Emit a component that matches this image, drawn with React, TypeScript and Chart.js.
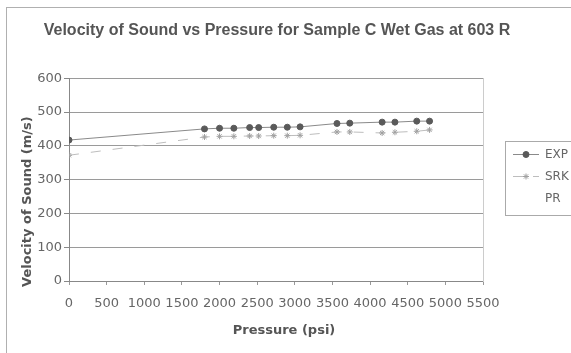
import React, { useEffect, useRef } from "react";
import { Chart, registerables } from "chart.js";
import { drawPoint } from "chart.js/helpers";

Chart.register(...registerables);

const TITLE = "Velocity of Sound vs Pressure for Sample C Wet Gas at 603 R";
const X_TITLE = "Pressure (psi)";
const Y_TITLE = "Velocity of Sound (m/s)";
const SERIES_NAMES = ["EXP", "SRK", "PR"];
const PRESSURE = [0, 1800, 2000, 2190, 2400, 2520, 2720, 2900, 3070, 3560, 3730, 4160, 4330, 4620, 4790];
const EXP = [417, 450, 452, 452, 454, 454, 455, 455, 456, 466, 467, 470, 470, 473, 473];
const SRK = [372, 426, 428, 428, 429, 429, 430, 430, 431, 441, 441, 438, 440, 443, 447];
const PR: number[] = [];
const X_TICKS = [0, 500, 1000, 1500, 2000, 2500, 3000, 3500, 4000, 4500, 5000, 5500];
const Y_TICKS = [0, 100, 200, 300, 400, 500, 600];

const TICK_FONT = { family: "'DejaVu Sans'", size: 13 };

const framePlugin = {
  id: "frame",
  beforeDraw(chart: any) {
    const ctx = chart.ctx;
    ctx.save();
    ctx.fillStyle = "#ffffff";
    ctx.fillRect(0, 0, chart.width, chart.height);
    ctx.strokeStyle = "#b0b0b0";
    ctx.lineWidth = 1;
    ctx.strokeRect(6.5, 7.5, chart.width + 20, chart.height + 20);
    ctx.restore();
  },
  afterDraw(chart: any) {
    const ctx = chart.ctx;
    const ca = chart.chartArea;
    ctx.save();
    ctx.fillStyle = "#555555";
    ctx.font = "bold 13px 'DejaVu Sans'";
    ctx.textAlign = "center";
    ctx.textBaseline = "middle";
    ctx.fillText(X_TITLE, (ca.left + ca.right) / 2 + 8, ca.bottom + 50);
    ctx.translate(28, (ca.top + ca.bottom) / 2 + 22);
    ctx.rotate(-Math.PI / 2);
    ctx.fillText(Y_TITLE, 0, 0);
    ctx.restore();

    const legend = chart.legend;
    if (legend && legend.legendHitBoxes && legend.legendHitBoxes.length) {
      const hbs = legend.legendHitBoxes;
      const bw = legend.options.labels.boxWidth;
      ctx.save();
      ctx.strokeStyle = "#aaaaaa";
      ctx.lineWidth = 1;
      const last = hbs[hbs.length - 1];
      const top = Math.round(hbs[0].top - 8) + 0.5;
      const bottom = Math.round(last.top + last.height + 10) + 0.5;
      ctx.strokeRect(Math.round(hbs[0].left - 8) + 0.5, top, 200, bottom - top);
      hbs.forEach((hb: any, i: number) => {
        const ds: any = chart.data.datasets[i];
        if (!ds || !ds.data.length) return;
        ctx.fillStyle = ds.pointBackgroundColor;
        ctx.strokeStyle = ds.pointBorderColor;
        ctx.lineWidth = 1;
        ctx.setLineDash([]);
        drawPoint(ctx, { pointStyle: ds.pointStyle, rotation: 0, radius: ds.pointRadius, borderWidth: 1 }, hb.left + bw / 2, hb.top + hb.height / 2);
      });
      ctx.restore();
    }
  },
};

export default function App() {
  const ref = useRef<HTMLCanvasElement | null>(null);
  useEffect(() => {
    if (!ref.current) return;
    const chart = new Chart(ref.current, {
      type: "scatter",
      data: {
        datasets: [
          {
            label: SERIES_NAMES[0],
            data: PRESSURE.map((x, i) => ({ x, y: EXP[i] })),
            showLine: true,
            borderColor: "#8a8a8a",
            backgroundColor: "#8a8a8a",
            borderWidth: 1,
            pointStyle: "circle",
            pointRadius: 3,
            pointBackgroundColor: "#5a5a5a",
            pointBorderColor: "#5a5a5a",
          },
          {
            label: SERIES_NAMES[1],
            data: PRESSURE.map((x, i) => ({ x, y: SRK[i] })),
            showLine: true,
            borderColor: "#bdbdbd",
            backgroundColor: "#bdbdbd",
            borderWidth: 1,
            borderDash: [10, 12],
            pointStyle: "star",
            pointRadius: 3,
            pointBackgroundColor: "#a0a0a0",
            pointBorderColor: "#a0a0a0",
          },
          {
            label: SERIES_NAMES[2],
            data: PR.map((y, i) => ({ x: PRESSURE[i], y })),
            showLine: true,
            borderColor: "rgba(0,0,0,0)",
            backgroundColor: "rgba(0,0,0,0)",
            borderWidth: 1,
          },
        ],
      },
      options: {
        animation: false,
        responsive: false,
        maintainAspectRatio: false,
        layout: { padding: { left: -17, top: 0, bottom: 0, right: 0 } },
        scales: {
          x: {
            type: "linear",
            min: 0,
            max: 5500,
            afterBuildTicks: (s: any) => {
              s.ticks = X_TICKS.map((v) => ({ value: v }));
            },
            afterFit: (s: any) => {
              s.height = 72;
            },
            grid: { drawOnChartArea: false, drawTicks: true, tickLength: 4, tickColor: "#999999" },
            border: { display: true, color: "#888888" },
            ticks: {
              font: TICK_FONT,
              color: "#666666",
              padding: 11,
              maxRotation: 0,
              autoSkip: false,
              callback: (v: any) => String(v),
            },
          },
          y: {
            type: "linear",
            min: 0,
            max: 600,
            afterBuildTicks: (s: any) => {
              s.ticks = Y_TICKS.map((v) => ({ value: v }));
            },
            afterFit: (s: any) => {
              s.width = 86;
            },
            grid: { color: "#9a9a9a", tickLength: 5, tickColor: "#888888" },
            border: { display: true, color: "#888888" },
            ticks: { font: TICK_FONT, color: "#666666", padding: 2, callback: (v: any) => String(v) },
          },
          yRight: {
            type: "linear",
            axis: "y",
            position: "right",
            display: true,
            grid: { display: false, drawTicks: false },
            ticks: { display: false },
            border: { display: true, color: "#cccccc" },
            afterFit: (s: any) => {
              s.width = 20;
            },
          },
        },
        plugins: {
          title: {
            display: true,
            text: TITLE,
            fullSize: true,
            color: "#555555",
            font: { family: "'Liberation Sans'", size: 16, weight: "bold" },
            padding: { top: 21, bottom: 38 },
          },
          legend: {
            display: true,
            position: "right",
            maxWidth: 68,
            labels: {
              boxWidth: 26,
              boxHeight: 0,
              padding: 10,
              color: "#666666",
              font: { family: "'DejaVu Sans'", size: 12 },
            },
          },
          tooltip: { enabled: false },
        },
      },
      plugins: [framePlugin],
    } as any);
    return () => chart.destroy();
  }, []);
  return (
    <div style={{ position: "fixed", left: 0, top: 0, width: 571, height: 353, background: "#fff" }}>
      <canvas ref={ref} width={571} height={353} />
    </div>
  );
}
